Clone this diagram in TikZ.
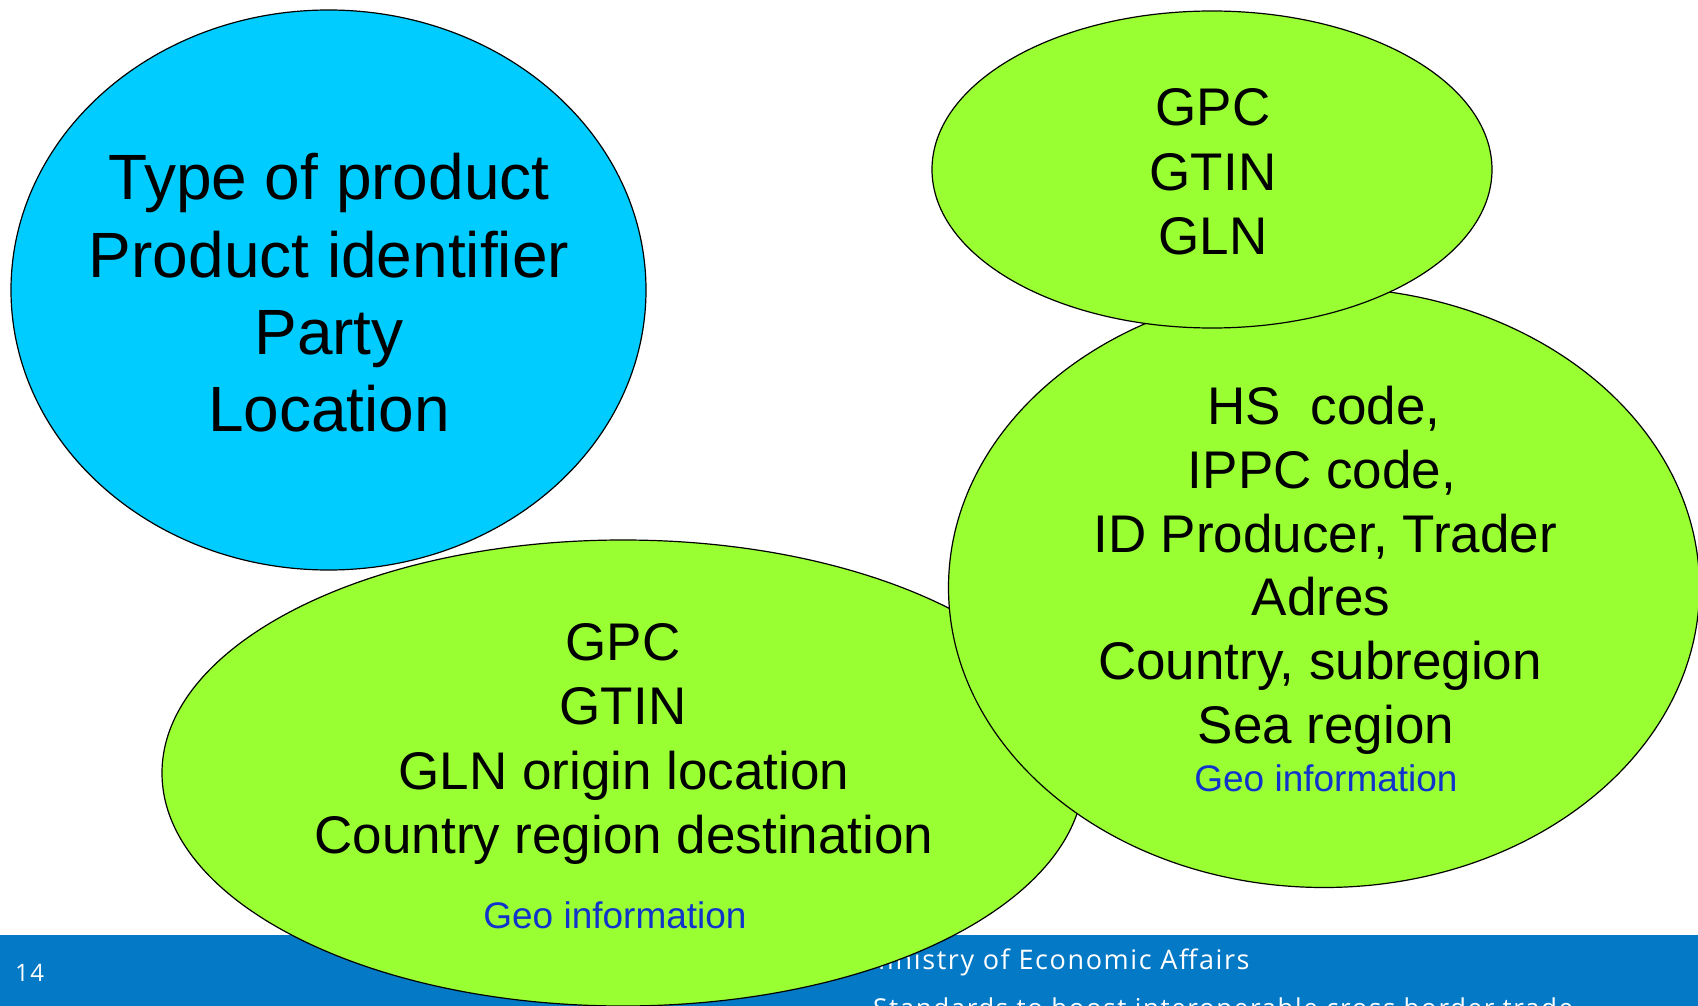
\documentclass[tikz,border=0pt]{standalone}
\usepackage{fontspec}
\setmainfont{Liberation Sans}
\newfontfamily\footfont[LetterSpace=6]{Open Sans}
\usetikzlibrary{shapes.geometric}
\definecolor{skyblue}{HTML}{00CCFF}
\definecolor{limegreen}{HTML}{99FF33}
\definecolor{footblue}{HTML}{0479C6}
\definecolor{geoblue}{HTML}{1133CC}
\tikzset{
  blob/.style={ellipse, draw=black, line width=1.2pt, inner sep=0pt, outer sep=0pt},
  bigtxt/.style={font=\fontsize{64}{77}\selectfont, anchor=base, inner sep=0pt},
  midtxt/.style={font=\fontsize{53}{64}\selectfont, anchor=base, inner sep=0pt},
  geotxt/.style={font=\fontsize{37}{44}\selectfont, text=geoblue, anchor=base, inner sep=0pt},
  foottxt/.style={font=\footfont\fontsize{27}{32}\selectfont, text=white, anchor=base west, inner sep=0pt},
}
\begin{document}
\begin{tikzpicture}[x=1pt,y=-1pt]
\useasboundingbox (0,0) rectangle (1698,1006);
\fill[white] (0,0) rectangle (1698,1006);
% footer
\node[fill=footblue, minimum width=1698pt, minimum height=71pt, anchor=north west, inner sep=0pt, outer sep=0pt] (footer) at (0,935) {};
\node[foottxt, font=\footfont\fontsize{24}{29}\selectfont] (pagenum) at (15,981) {14};
\node[foottxt] (ministry) at (861,969) {Ministry of Economic Affairs};
\node[foottxt, font=\footfont\fontsize{26}{31}\selectfont] (subtitle) at (873,1017) {Standards to boost interoperable cross border trade};
% ellipses
\node[blob, fill=limegreen, minimum width=922pt, minimum height=466pt] (bottomE) at (623,773) {};
\node[blob, fill=skyblue, minimum width=635pt, minimum height=560pt] (blueE) at (328.5,290) {};
\node[blob, fill=limegreen, minimum width=751pt, minimum height=600pt] (rightE) at (1324,587.5) {};
\node[blob, fill=limegreen, minimum width=560pt, minimum height=317pt] (topE) at (1212,169.5) {};
% blue ellipse text
\node[bigtxt] (b1) at (329,200) {Type of product};
\node[bigtxt] (b2) at (329,277) {Product identifier};
\node[bigtxt] (b3) at (329,354) {Party};
\node[bigtxt] (b4) at (329,431) {Location};
% top green text
\node[midtxt] (t1) at (1213,126) {GPC};
\node[midtxt] (t2) at (1213,190) {GTIN};
\node[midtxt] (t3) at (1213,254) {GLN};
% right green text
\node[midtxt] (r1) at (1324,424) {HS\ \ code,};
\node[midtxt] (r2) at (1322,488) {IPPC code,};
\node[midtxt] (r3) at (1325,552) {ID Producer, Trader};
\node[midtxt] (r4) at (1321,615) {Adres};
\node[midtxt] (r5) at (1320,679) {Country, subregion};
\node[midtxt] (r6) at (1326,743) {Sea region};
\node[geotxt] (r7) at (1326,791) {Geo information};
% bottom green text
\node[midtxt] (g1) at (623,660) {GPC};
\node[midtxt] (g2) at (623,724) {GTIN};
\node[midtxt] (g3) at (624,789) {GLN origin location};
\node[midtxt] (g4) at (624,853) {Country region destination};
\node[geotxt] (g5) at (615,928) {Geo information};
\end{tikzpicture}
\end{document}
